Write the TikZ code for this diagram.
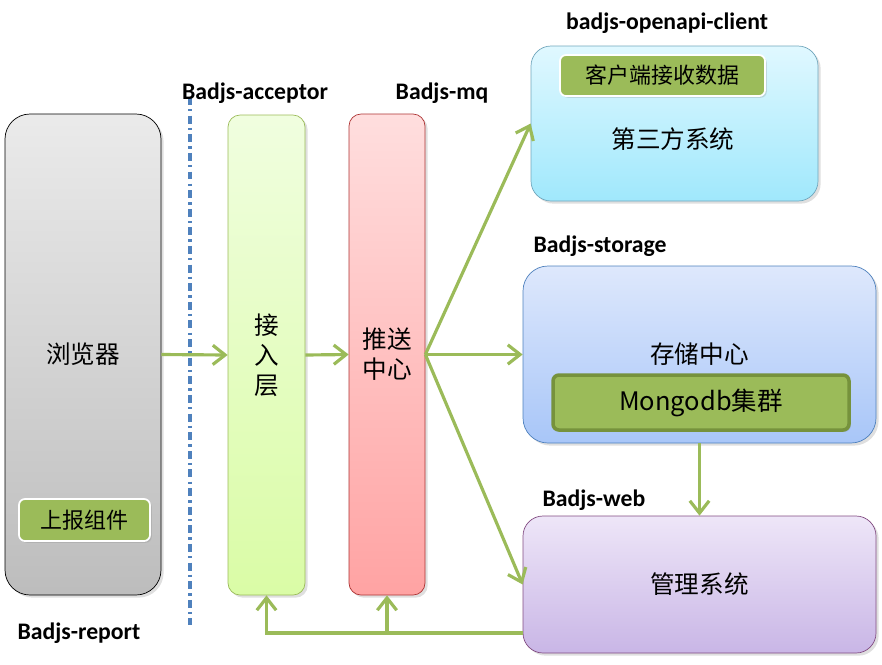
\documentclass[tikz,border=0pt]{standalone}
\usepackage{fontspec}
\setmainfont{Carlito}
\newfontfamily\cjk{Noto Sans CJK SC}
\usetikzlibrary{arrows.meta,shadows}
\newcommand{\px}{0.02cm}
\definecolor{flowgreen}{HTML}{9BBB59}
\definecolor{darkgreen}{HTML}{76923C}
\definecolor{sepblue}{HTML}{4F81BD}
\definecolor{acctop}{HTML}{F0FEDF}
\definecolor{accbot}{HTML}{DAFCA6}
\definecolor{mqtop}{HTML}{FFDEDE}
\definecolor{mqbot}{HTML}{FFA3A3}
\definecolor{opstop}{HTML}{E0F8FF}
\definecolor{opsbot}{HTML}{A0E8FC}
\definecolor{storetop}{HTML}{DEE8FC}
\definecolor{storebot}{HTML}{A8C6F8}
\definecolor{webtop}{HTML}{EEE6F8}
\definecolor{webbot}{HTML}{C9B6E6}

\begin{document}
\begin{tikzpicture}[x=\px,y=-\px]
\useasboundingbox (0,0) rectangle (882,664);
\tikzstyle{part}=[draw,
                  inner sep=0pt,
                  align=center,
                  font=\cjk\fontsize{14pt}{17pt}\selectfont,
                  drop shadow={opacity=0.25,shadow xshift=1.5pt,shadow yshift=-1.5pt}
                  ]
\tikzstyle{tag}=[font=\bfseries\fontsize{13.5pt}{15pt}\selectfont]
\tikzstyle{module}=[draw=white,line width=1pt,fill=flowgreen,rounded corners=6*\px,
                    inner sep=0pt,font=\cjk\fontsize{12.5pt}{15pt}\selectfont,
                    drop shadow={opacity=0.25,shadow xshift=1pt,shadow yshift=-1pt}]
\tikzstyle{flow}=[draw=flowgreen,line width=1.8pt,-{Straight Barb[length=7pt,width=11pt,line width=1.8pt]}]

% report side
\node[part,draw=black,rounded corners=25*\px,top color=black!8,bottom color=black!26,
      minimum width=156*\px,minimum height=481*\px] (browser) at (83,354.5) {浏览器};
\node[module,minimum width=131*\px,minimum height=42*\px] (reporter) at (84.5,520) {上报组件};
\node[tag] (reportlbl) at (79,633) {Badjs-report};

\draw[sepblue,line width=2pt,dash pattern=on 4.5pt off 2.4pt on 1.3pt off 2.4pt] (190,97) -- (190,625);

% acceptor and mq
\node[part,draw=flowgreen,rounded corners=12*\px,top color=acctop,bottom color=accbot,
      minimum width=77*\px,minimum height=480*\px] (acc) at (266.5,355) {接\\入\\层};
\node[tag] (acclbl) at (255,93) {Badjs-acceptor};
\node[part,draw=red!60!black!80,rounded corners=12*\px,top color=mqtop,bottom color=mqbot,
      minimum width=76*\px,minimum height=481*\px] (mq) at (387,354.5) {推送\\中心};
\node[tag] (mqlbl) at (442,93) {Badjs-mq};

% consumers
\node[part,draw=cyan!60!black!70,rounded corners=20*\px,top color=opstop,bottom color=opsbot,
      minimum width=287*\px,minimum height=155*\px] (ops) at (674.5,123.5) {};
\node[module,minimum width=205*\px,minimum height=41*\px] (client) at (662.5,75.5) {客户端接收数据};
\node[font=\cjk\fontsize{14pt}{17pt}\selectfont] (opstext) at (673,139) {第三方系统};
\node[tag] (opslbl) at (667,23) {badjs-openapi-client};

\node[part,draw=sepblue,rounded corners=25*\px,top color=storetop,bottom color=storebot,
      minimum width=353*\px,minimum height=177*\px] (store) at (699.5,354.5) {存储中心};
\node[module,draw=darkgreen,line width=2pt,minimum width=296*\px,minimum height=55*\px,
      font=\cjk\fontsize{14.5pt}{17pt}\selectfont] (mongo) at (701,402.5) {Mongodb集群};
\node[tag] (storelbl) at (600,246) {Badjs-storage};

\node[part,draw=violet!60!black!70,rounded corners=20*\px,top color=webtop,bottom color=webbot,
      minimum width=353*\px,minimum height=137*\px] (web) at (699.5,584.5) {管理系统};
\node[tag] (weblbl) at (594,500) {Badjs-web};

% flows
\draw[flow] (browser.east) -- (acc.west);
\draw[flow] (acc.east) -- (mq.west);
\draw[flow] (mq.east) -- (ops.west);
\draw[flow] (mq.east) -- (store.west);
\draw[flow] (mq.east) -- (web.west);
\draw[flow] (store.south) -- (web.north);

\coordinate (back) at (523,633);
\draw[flow] (back) -- (acc.south |- back) -- (acc.south);
\draw[flow] (mq.south |- back) -- (mq.south);

\end{tikzpicture}
\end{document}
